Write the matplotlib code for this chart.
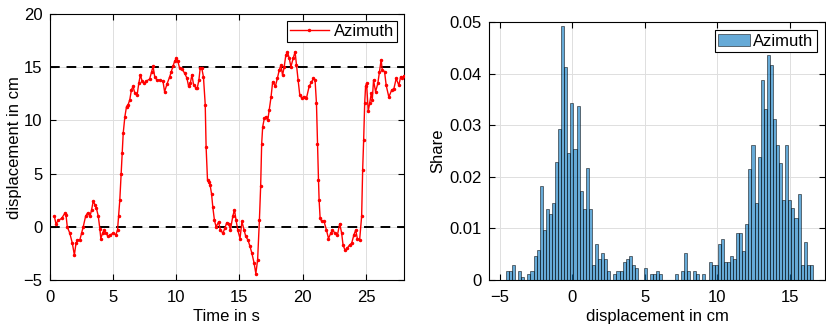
import numpy as np
import matplotlib
matplotlib.use('Agg')
import matplotlib.pyplot as plt

plt.rcParams['font.family'] = ['Liberation Sans', 'DejaVu Sans']
plt.rcParams['font.size'] = 12

# time series
time_s = [0.38, 0.5, 0.7, 0.96, 1.22, 1.3, 1.4, 1.6, 1.8, 1.96, 2.09, 2.2, 2.4, 2.53,
          2.66, 2.85, 3.0, 3.2, 3.32, 3.45, 3.6, 3.7, 3.85, 3.98, 4.05, 4.19, 4.3,
          4.45, 4.63, 4.8, 5.03, 5.24, 5.37, 5.45, 5.55, 5.66, 5.74, 5.82, 5.95,
          6.08, 6.21, 6.34, 6.47, 6.6, 6.73, 6.92, 7.05, 7.18, 7.31, 7.47, 7.65,
          7.91, 8.07, 8.18, 8.31, 8.49, 8.7, 8.96, 9.09, 9.27, 9.49, 9.62, 9.75,
          9.88, 10.01, 10.14, 10.28, 10.49, 10.67, 10.85, 10.99, 11.12, 11.25,
          11.38, 11.54, 11.67, 11.8, 11.9, 12.03, 12.16, 12.3, 12.37, 12.48, 12.58,
          12.69, 12.8, 12.9, 13.03, 13.16, 13.35, 13.5, 13.69, 13.85, 14.0, 14.16,
          14.29, 14.48, 14.61, 14.74, 14.87, 15.05, 15.2, 15.37, 15.5, 15.68, 15.84,
          15.99, 16.16, 16.3, 16.44, 16.58, 16.68, 16.76, 16.84, 16.97, 17.1, 17.24,
          17.36, 17.5, 17.63, 17.84, 18.0, 18.15, 18.28, 18.41, 18.54, 18.67, 18.8,
          18.94, 19.07, 19.25, 19.4, 19.51, 19.64, 19.77, 19.93, 20.09, 20.3, 20.51,
          20.69, 20.85, 20.98, 21.09, 21.17, 21.25, 21.3, 21.38, 21.51, 21.69, 21.88,
          22.04, 22.22, 22.35, 22.56, 22.75, 22.93, 23.08, 23.19, 23.35, 23.53,
          23.71, 23.87, 24.05, 24.19, 24.32, 24.5, 24.66, 24.74, 24.82, 24.9, 24.97,
          25.05, 25.18, 25.29, 25.42, 25.5, 25.6, 25.76, 25.94, 26.07, 26.2, 26.29,
          26.47, 26.6, 26.81, 27.03, 27.21, 27.39, 27.6, 27.74, 27.87, 28.0]
azimuth = [1.0, 0.3, 0.6, 0.8, 1.3, 1.1, 0.0, -0.6, -1.55, -2.65, -1.55, -1.25, -1.2,
           -0.6, 0.0, 1.0, 1.3, 1.0, 1.6, 2.4, 2.05, 1.75, 1.0, -0.25, -1.1, -0.6,
           -0.3, -0.6, -0.9, -0.75, -0.6, -0.75, -0.3, 1.0, 2.5, 5.0, 6.9, 8.8,
           10.35, 11.3, 11.5, 11.95, 12.9, 13.2, 12.6, 12.4, 13.5, 14.3, 13.7, 13.5,
           13.7, 13.9, 14.6, 15.1, 14.1, 13.8, 13.8, 13.7, 12.7, 13.4, 14.1, 14.6,
           15.1, 15.55, 15.85, 15.55, 14.9, 14.8, 14.45, 14.0, 13.2, 13.5, 14.3,
           13.35, 13.1, 13.05, 13.8, 14.9, 14.9, 14.1, 11.5, 7.5, 4.4, 4.2, 3.9,
           3.1, 1.85, 0.6, 0.0, 0.45, -0.3, -0.6, -0.15, 0.4, 0.3, -0.3, 1.0, 1.6,
           0.6, -0.3, -1.1, 0.5, -0.3, -0.9, -1.25, -1.85, -2.5, -3.4, -4.4, -3.1,
           0.6, 3.8, 7.8, 9.4, 10.2, 10.35, 10.0, 11.0, 12.2, 13.65, 13.2, 13.95,
           14.75, 15.2, 14.25, 15.05, 16.15, 16.45, 15.85, 15.05, 15.85, 16.45, 15.2,
           13.8, 12.4, 12.1, 12.25, 12.1, 13.2, 13.6, 13.95, 13.8, 11.6, 7.8, 4.4,
           2.5, 0.8, 0.5, 0.5, -0.3, -1.1, -0.6, -0.3, -0.6, -0.75, 0.3, -0.6, -1.7,
           -2.2, -2.0, -1.7, -1.55, -0.75, -0.3, -1.1, -1.25, 1.0, 5.35, 8.2, 11.6,
           13.2, 13.5, 10.85, 11.6, 12.55, 11.95, 13.8, 12.7, 13.5, 14.6, 15.7,
           14.75, 14.6, 13.3, 12.2, 12.85, 13.0, 13.95, 13.3, 14.1, 13.95, 14.2]

reference_levels = [0, 15]

# histogram share per bin (right panel), bins span hist_lo..hist_hi
hist_lo, hist_hi = -4.58, 16.6
share = [0.0017, 0.0017, 0.0029, 0.0, 0.0017, 0.0006, 0.0, 0.0011, 0.0017, 0.0046,
         0.0058, 0.0183, 0.0097, 0.0138, 0.0127, 0.0149, 0.0229, 0.0292, 0.0492, 0.0412,
         0.0247, 0.0343, 0.0253, 0.0337, 0.0172, 0.0138, 0.0218, 0.0138, 0.0029, 0.0069,
         0.0041, 0.0052, 0.0041, 0.0017, 0.0, 0.0011, 0.0017, 0.0017, 0.0034, 0.0041,
         0.0046, 0.0029, 0.0023, 0.0, 0.0, 0.0023, 0.0, 0.0011, 0.0011, 0.0017,
         0.0011, 0.0, 0.0, 0.0, 0.0, 0.0011, 0.0, 0.0017, 0.0052, 0.0017,
         0.0, 0.0017, 0.0011, 0.0, 0.0011, 0.0, 0.0034, 0.0029, 0.0029, 0.0069,
         0.0079, 0.0034, 0.0034, 0.0046, 0.0041, 0.0091, 0.0091, 0.0057, 0.0108, 0.0216,
         0.0262, 0.0150, 0.0239, 0.0388, 0.0332, 0.0437, 0.0416, 0.0312, 0.0262, 0.0227,
         0.0155, 0.0262, 0.0155, 0.0140, 0.0120, 0.0166, 0.0029, 0.0074, 0.0029, 0.0029]

edges = np.linspace(hist_lo, hist_hi, len(share) + 1)

fig = plt.figure(figsize=(8.26, 3.29), dpi=100)
ax1 = fig.add_axes([0.060, 0.149, 0.429, 0.808])
ax2 = fig.add_axes([0.592, 0.149, 0.407, 0.784])

grid_kw = dict(color='#dedede', linewidth=0.7)

def matlab_style(ax):
    ax.set_axisbelow(True)
    ax.grid(True, **grid_kw)
    ax.tick_params(direction='in', top=True, right=True, length=4, width=0.8,
                   labelsize=12, colors='black')
    ax.tick_params(axis='x', pad=7)
    ax.tick_params(axis='y', pad=5)
    for s in ax.spines.values():
        s.set_linewidth(0.8)
        s.set_color('black')

# left: time series
ax1.plot(time_s, azimuth, color='red', lw=1.0, marker='.', ms=3, label='Azimuth', zorder=3)
for lvl in reference_levels:
    ax1.axhline(lvl, color='black', ls=(0, (5, 3.5)), lw=1.4, zorder=2)
ax1.set_xlim(0, 28)
ax1.set_ylim(-5, 20)
ax1.set_xticks([0, 5, 10, 15, 20, 25])
ax1.set_yticks([-5, 0, 5, 10, 15, 20])
ax1.set_xlabel('Time in s', fontsize=12, labelpad=3)
ax1.set_ylabel('displacement in cm', fontsize=12, labelpad=1)
matlab_style(ax1)
leg1 = ax1.legend(loc='upper right', fancybox=False, edgecolor='black', framealpha=1,
                  fontsize=12, borderaxespad=0.4, handlelength=2.3, handletextpad=0.3,
                  borderpad=0.2)
leg1.get_frame().set_linewidth(0.8)

# right: histogram
ax2.bar(edges[:-1], share, width=np.diff(edges), align='edge',
        color='#0072BD', alpha=0.6, edgecolor='black', linewidth=0.6, label='Azimuth')
ax2.set_xlim(-5.75, 17.45)
ax2.set_ylim(0, 0.05)
ax2.set_xticks([-5, 0, 5, 10, 15])
ax2.set_yticks([0, 0.01, 0.02, 0.03, 0.04, 0.05])
ax2.set_yticklabels(['0', '0.01', '0.02', '0.03', '0.04', '0.05'])
ax2.set_xlabel('displacement in cm', fontsize=12, labelpad=3)
ax2.set_ylabel('Share', fontsize=12, labelpad=3)
matlab_style(ax2)
leg2 = ax2.legend(loc='upper right', fancybox=False, edgecolor='black', framealpha=1,
                  fontsize=12, borderaxespad=0.5, handlelength=1.9, handletextpad=0.2,
                  borderpad=0.2)
leg2.get_frame().set_linewidth(0.8)

fig.savefig('out.png', dpi=100)
